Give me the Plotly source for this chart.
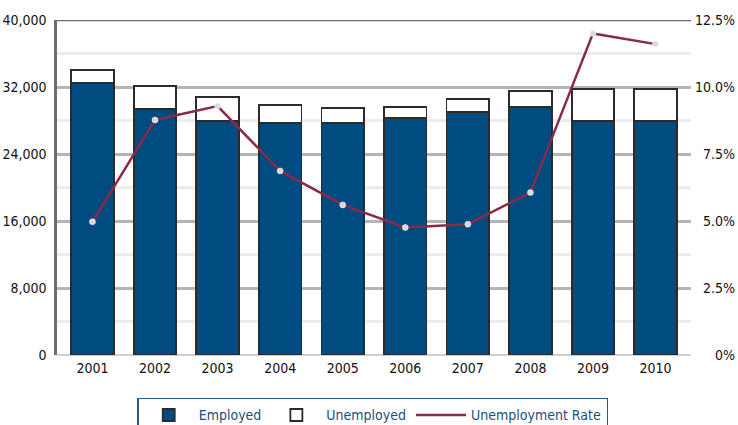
import plotly.graph_objects as go

years = ["2001", "2002", "2003", "2004", "2005", "2006", "2007", "2008", "2009", "2010"]
employed = [32450, 29350, 27980, 27660, 27740, 28260, 28970, 29570, 27980, 27980]
unemployed = [1580, 2770, 2860, 2190, 1710, 1310, 1560, 1990, 3820, 3820]
rate = [4.97, 8.77, 9.29, 6.87, 5.60, 4.76, 4.88, 6.06, 12.0, 11.6]

left_ticks = [0, 8000, 16000, 24000, 32000, 40000]
right_ticks = [0, 2.5, 5.0, 7.5, 10.0, 12.5]
right_labels = ["\u2007\u2007\u20080%", "\u20072.5%", "\u20075.0%", "\u20077.5%", "10.0%", "12.5%"]

FONT = "Liberation Sans Narrow, DejaVu Sans Condensed, Arial Narrow, sans-serif"
BLUE = "#004b80"
MAROON = "#8b2a48"
EDGE = "#2b2b2b"

fig = go.Figure()
fig.add_trace(go.Bar(
    x=years, y=employed, name="Employed",
    marker=dict(color=BLUE, line=dict(color=EDGE, width=1.8)),
))
fig.add_trace(go.Bar(
    x=years, y=unemployed, name="Unemployed",
    marker=dict(color="white", line=dict(color=EDGE, width=1.8)),
))
fig.add_trace(go.Scatter(
    x=years, y=rate, name="Unemployment Rate", yaxis="y2",
    mode="lines",
    line=dict(color=MAROON, width=2.5),
))
fig.add_trace(go.Scatter(
    x=years, y=rate, name="Unemployment Rate", yaxis="y2",
    mode="markers", showlegend=False,
    marker=dict(size=6, color="#d9d9d9", line=dict(color="white", width=0.5)),
))

fig.update_layout(
    width=738, height=425,
    margin=dict(l=57, r=47, t=20, b=70, autoexpand=False),
    paper_bgcolor="white", plot_bgcolor="white",
    barmode="stack", bargap=0.32,
    font=dict(family=FONT, size=14, color="#111111"),
    xaxis=dict(
        showgrid=False, showline=False, ticks="", ticklabelstandoff=3,
        tickfont=dict(size=14),
    ),
    yaxis=dict(
        range=[0, 40000], tickvals=left_ticks, tickformat=",",
        showgrid=True, gridcolor="#b5b5b5", gridwidth=2.5,
        minor=dict(dtick=4000, showgrid=True, gridcolor="#ececec", gridwidth=2.5),
        showline=True, linecolor="#6e6e6e", linewidth=2.5,
        zeroline=True, zerolinecolor="#d0d0d0", zerolinewidth=2,
        ticks="", ticklabelstandoff=5,
    ),
    yaxis2=dict(
        range=[0, 12.5], tickvals=right_ticks, ticktext=right_labels,
        overlaying="y", side="right", showgrid=False, zeroline=False,
        showline=False, ticks="", ticklabelstandoff=3,
    ),
    shapes=[dict(type="line", xref="paper", x0=0, x1=1, yref="y", y0=40000, y1=40000,
                 line=dict(color="#6e6e6e", width=2.5), layer="below")],
    legend=dict(
        orientation="h", x=0.498, xanchor="center", y=-0.128, yanchor="top",
        bordercolor="#2a5a8c", borderwidth=1.5, bgcolor="white",
        font=dict(family=FONT, size=14, color="#1f4e79"),
        traceorder="normal", itemwidth=50,
    ),
)

fig.write_html("out.html")
